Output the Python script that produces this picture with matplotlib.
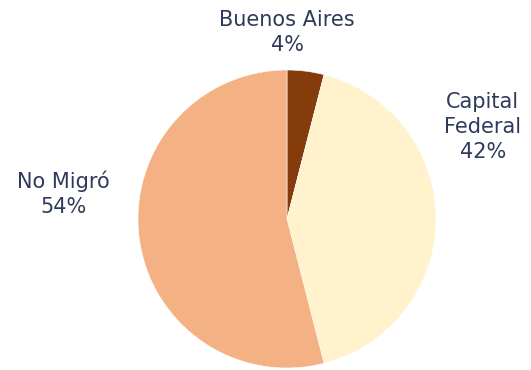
import matplotlib
matplotlib.use("Agg")
import matplotlib.pyplot as plt

# share of people by migration destination
destinos = ["Buenos Aires", "Capital\nFederal", "No Migró"]
porcentajes = [4, 42, 54]
colores = ["#843C0C", "#FFF2CC", "#F4B183"]

# where each label sits, in pie units (radius = 1)
label_pos = [(0.0, 1.25), (1.315, 0.617), (-1.503, 0.168)]

text_color = "#2E3A5A"

fig = plt.figure(figsize=(5.31, 3.70), dpi=100)
ax = fig.add_axes([138 / 531, 2 / 370, 298 / 531, 298 / 370])

ax.pie(porcentajes, colors=colores, startangle=90, counterclock=False,
       radius=1, wedgeprops=dict(linewidth=0.4, edgecolor="white"))
ax.set_xlim(-1, 1)
ax.set_ylim(-1, 1)
ax.set_aspect("equal")
ax.axis("off")

for nombre, pct, (x, y) in zip(destinos, porcentajes, label_pos):
    ax.text(x, y, f"{nombre}\n{pct}%", ha="center", va="center",
            fontsize=15, color=text_color, linespacing=1.3,
            family="DejaVu Sans", clip_on=False)

fig.savefig("out.png", dpi=100)
